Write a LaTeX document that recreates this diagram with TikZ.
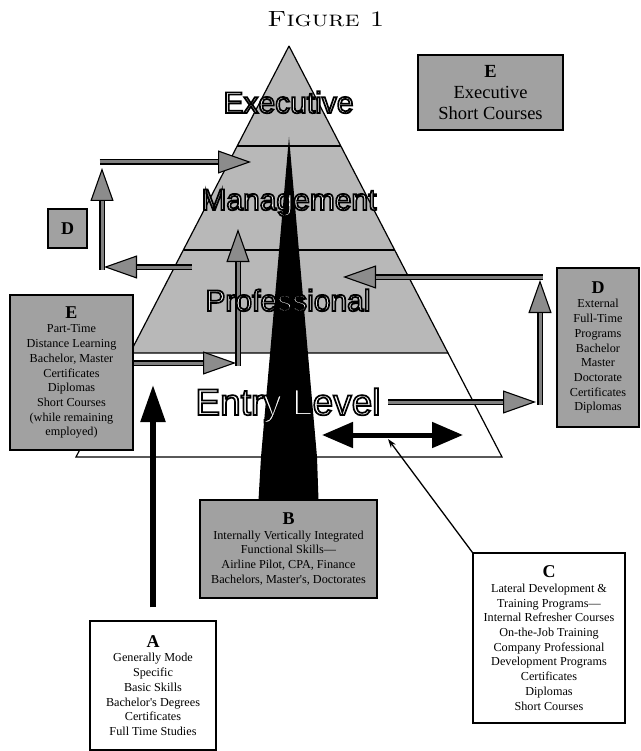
\documentclass[tikz,border=0pt]{standalone}
\usepackage{fontspec}
\usepackage{graphicx}
\usetikzlibrary{arrows.meta}
\newfontfamily\tms{Liberation Serif}
\newfontfamily\hel{Liberation Sans}
\definecolor{pyrgray}{gray}{0.72}
\definecolor{boxgray}{gray}{0.63}
\definecolor{shaftgray}{gray}{0.5}
\definecolor{headgray}{gray}{0.55}
\newcommand\hd[1]{{\fontsize{18}{14.7}\selectfont\bfseries #1}}
\newcommand\hollow[1]{\textcolor{white}{\special{pdf:literal direct 0 G 1.7 w 2 Tr}#1\special{pdf:literal direct 0 Tr}}}
\begin{document}
\begin{tikzpicture}[x=1pt,y=-1pt,
  gbox/.style={draw=black,line width=1.2pt,fill=boxgray,inner sep=0pt,align=center,
    font=\tms\fontsize{12.2}{14.7}\selectfont},
  wbox/.style={gbox,fill=white},
  tier/.style={font=\hel\fontsize{30}{30}\selectfont,anchor=base,inner sep=0pt},
  gout/.style={line width=5.5pt,draw=black,
    -{Triangle[length=33pt,width=23pt,fill=headgray,line width=1.1pt]}},
  gin/.style={line width=3pt,draw=shaftgray,shorten >=33pt},
  barrow/.style={line width=5.5pt,draw=black,-{Triangle[length=37pt,width=24pt]}},
  darrow/.style={line width=5pt,draw=black,{Triangle[length=31pt,width=25pt]}-{Triangle[length=31pt,width=25pt]}},
]
\useasboundingbox (0,0) rectangle (640,751);

% title
\node[anchor=base,inner sep=0pt,font=\fontsize{22}{26}\selectfont] (title) at (326,27)
  {\scalebox{1.22}[1]{\textsc{Figure 1}}};

% pyramid
\coordinate (apex) at (289,46);
\coordinate (pl) at (130,353);
\coordinate (pr) at (448,353);
\coordinate (bl) at (76,457);
\coordinate (br) at (502,457);
\fill[pyrgray] (apex) -- (pr) -- (pl) -- cycle;
\draw[line width=1.2pt,fill=white] (pl) -- (pr) -- (br) -- (bl) -- cycle;
\draw[line width=1.2pt] (apex) -- (pr) (apex) -- (pl);
\coordinate (m1l) at (237.3,146); \coordinate (m1r) at (340.7,146);
\coordinate (m2l) at (183.5,250); \coordinate (m2r) at (394.5,250);
\draw[line width=1.2pt] (m1l) -- (m1r) (m2l) -- (m2r);

% black spire
\fill[black] (289,137) -- (261,457) -- (258.5,500) -- (318.5,500) -- (317,457) -- cycle;

% left loop (D)
\coordinate (l1) at (192,267); \coordinate (l2) at (104,267);
\coordinate (l3) at (102,269.5); \coordinate (l4) at (102,168);
\coordinate (l5) at (99.5,162); \coordinate (l6) at (251,162);
\draw[gout] (l3) -- (l4); \draw[gin] (l3) -- (l4);
\draw[gout] (l1) -- (l2); \draw[gin] (l1) -- (l2);
\draw[gout] (l5) -- (l6); \draw[gin] (l5) -- (l6);

% E arrow
\coordinate (e1) at (133,363); \coordinate (e2) at (236,363);
\coordinate (e3) at (238,365.5); \coordinate (e4) at (238,229);
\draw[gout] (e3) -- (e4); \draw[gin] (e3) -- (e4);
\draw[gout] (e1) -- (e2); \draw[gin] (e1) -- (e2);

% right loop (D)
\coordinate (r1) at (388,402); \coordinate (r2) at (536,402);
\coordinate (r3) at (540,404.5); \coordinate (r4) at (540,280);
\coordinate (r5) at (542.5,277); \coordinate (r6) at (343,277);
\draw[gout] (r3) -- (r4); \draw[gin] (r3) -- (r4);
\draw[gout] (r1) -- (r2); \draw[gin] (r1) -- (r2);
\draw[gout] (r5) -- (r6); \draw[gin] (r5) -- (r6);

% lateral double arrow
\coordinate (d1) at (322,435); \coordinate (d2) at (463,435);
\draw[darrow] (d1) -- (d2);

% tier labels
\node[tier] (exe) at (288.5,113) {\hollow{Executive}};
\node[tier] (man) at (289,210) {\hollow{Management}};
\node[tier] (pro) at (288,311) {\hollow{Professional}};
\node[tier,font=\hel\fontsize{37}{37}\selectfont] (ent) at (288,415) {\hollow{Entry Level}};

% boxes
\node[gbox,minimum width=145,minimum height=75,font=\tms\fontsize{18.5}{21}\selectfont] (Etop) at (490.5,92.5)
  {\textbf{E}\\Executive\\Short Courses};
\node[gbox,minimum width=39,minimum height=39] (Dsmall) at (67.5,228.5) {\hd{D}};
\node[gbox,minimum width=123,minimum height=155] (Eleft) at (71.5,372.5)
  {\hd{E}\\Part-Time\\Distance Learning\\Bachelor, Master\\Certificates\\Diplomas\\Short Courses\\(while remaining\\employed)};
\node[gbox,minimum width=82,minimum height=159] (Dright) at (598,347.5)
  {\hd{D}\\External\\Full-Time\\Programs\\Bachelor\\Master\\Doctorate\\Certificates\\Diplomas};
\node[gbox,minimum width=177,minimum height=98] (B) at (288.5,549)
  {\hd{B}\\Internally Vertically Integrated\\Functional Skills—\\Airline Pilot, CPA, Finance\\Bachelors, Master's, Doctorates};
\node[wbox,minimum width=126,minimum height=129] (A) at (153,685.5)
  {\hd{A}\\Generally Mode\\Specific\\Basic Skills\\Bachelor's Degrees\\Certificates\\Full Time Studies};
\node[wbox,minimum width=152,minimum height=170] (C) at (549,638)
  {\hd{C}\\Lateral Development \&\\Training Programs—\\Internal Refresher Courses\\On-the-Job Training\\Company Professional\\Development Programs\\Certificates\\Diplomas\\Short Courses};

% A arrow
\coordinate (atip) at (153,385);
\draw[barrow] ([yshift=13]A.north) -- (atip);

% pointer from C
\coordinate (ctip) at (388,439);
\draw[line width=1.3pt,-{Stealth[length=9pt,width=6pt]}] (C.north west) -- (ctip);
\end{tikzpicture}
\end{document}
